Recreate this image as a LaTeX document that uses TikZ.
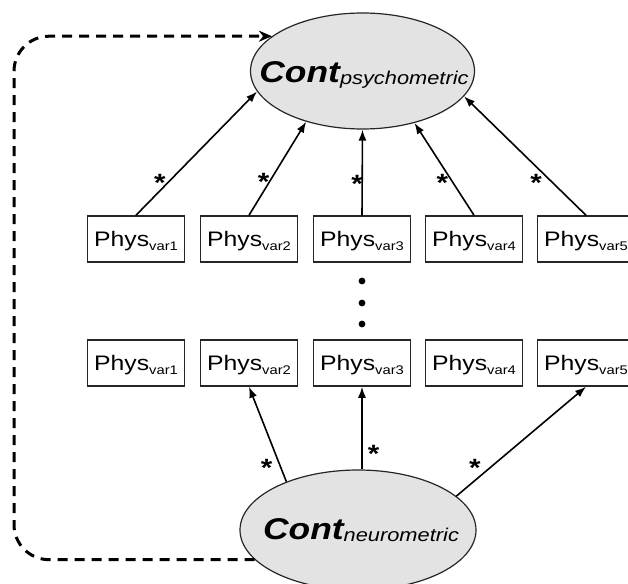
\documentclass[tikz,border=0pt]{standalone}
\usepackage{fontspec}
\setmainfont{Liberation Sans}[FakeStretch=1.18]
\usetikzlibrary{shapes.geometric,arrows.meta}

\newcommand{\physlbl}[1]{{\fontsize{21}{24}\selectfont Phys}\raisebox{-4pt}{\fontsize{12.5}{14}\selectfont var#1}}
\newcommand{\contlbl}[1]{{\fontsize{30}{34}\selectfont\bfseries\itshape Cont}\raisebox{-2pt}{\fontsize{18.5}{22}\selectfont\itshape #1}}

\begin{document}
\begin{tikzpicture}[x=1pt,y=-1pt,
		physbox/.style={draw=black!85, line width=1.5pt, minimum width=97pt, minimum height=46pt, inner sep=0pt, text height=15pt, text depth=0pt},
		latent/.style={ellipse, draw=black!85, line width=1.2pt, fill=black!11, inner sep=0pt},
		conttext/.style={inner sep=0pt, text height=21pt, text depth=0pt},
		loadarrow/.style={line width=1.6pt, -{Latex[length=11pt,width=8pt]}},
		starlbl/.style={inner sep=0pt, yshift=-2.5pt, font=\bfseries\fontsize{25}{25}\selectfont},
		feedback/.style={line width=3pt, dash pattern=on 10pt off 7pt, rounded corners=35pt, -{Stealth[length=13pt,width=11pt]}}]
		\clip (0,0) rectangle (628,583);
		% latent variables
		\node[latent, minimum width=224pt, minimum height=116pt] (psycho) at (362.5,71) {};
		\node[conttext] (psychotxt) at (364,72) {\contlbl{psychometric}};
		\node[latent, minimum width=236pt, minimum height=120pt] (neuro) at (358,530) {};
		\node[conttext] (neurotxt) at (361,529) {\contlbl{neurometric}};
		% indicator rows
		\foreach \i/\x in {1/136,2/249,3/362,4/474,5/586} {
			\node[physbox] (top\i) at (\x,239) {\physlbl{\i}};
			\node[physbox] (bot\i) at (\x,363) {\physlbl{\i}};
		}
		\foreach \y in {281,303,324}
			\fill (362,\y) circle (3.4pt);
		% loadings on psychometric
		\foreach \i/\a/\p/\s in {1/191/.28/-10, 2/222/.38/-7, 3/270/.40/-5, 4/315/.38/-9, 5/346.5/.29/-14.5}
			\draw[loadarrow] (top\i.north) -- node[starlbl, pos=\p, xshift=\s pt] {*} (psycho.\a);
		% loadings of neurometric
		\draw[loadarrow] (neuro.146.5) -- node[starlbl, pos=.17, xshift=-13.5pt] {*} (bot2.south);
		\draw[loadarrow] (neuro.north -| bot3.south) -- node[starlbl, pos=.22, xshift=11.5pt] {*} (bot3.south);
		\draw[loadarrow] (neuro.19.8) -- node[starlbl, pos=.28, xshift=-17.7pt] {*} (bot5.south);
		% feedback path
		\coordinate (loopcorner) at (14,300);
		\draw[feedback] (neuro.196.5) -| (loopcorner) |- (psycho.159);
	\end{tikzpicture}
\end{document}
